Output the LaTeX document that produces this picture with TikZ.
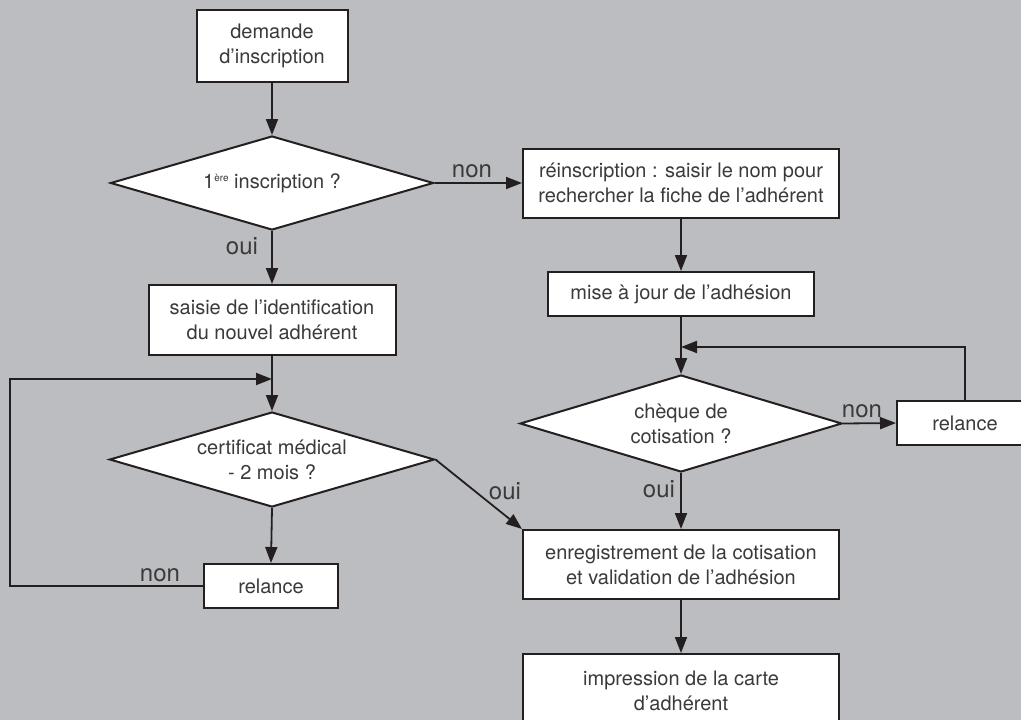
\documentclass[tikz,border=0pt]{standalone}
\usepackage{fontspec}
\setmainfont{TeX Gyre Heros}
\usetikzlibrary{shapes.geometric,arrows.meta}
\definecolor{bg}{HTML}{BCBDC1}
\definecolor{ln}{HTML}{231F20}
\definecolor{tx}{HTML}{3A3A3A}
\begin{document}
\begin{tikzpicture}[x=1pt,y=-1pt,
  box/.style={draw=ln, line width=2pt, fill=white, text=tx, align=center, inner sep=0pt,
    font=\fontsize{20}{25}\selectfont},
  dec/.style={diamond, draw=ln, line width=2pt, fill=white, text=tx, align=center, inner sep=0pt,
    shape aspect=3.4, font=\fontsize{20}{25}\selectfont},
  arr/.style={draw=ln, line width=1.8pt, -{Triangle[length=16pt,width=12pt]}},
  lbl/.style={text=tx, inner sep=0pt, font=\fontsize{24}{26}\selectfont}]
\fill[bg] (0,0) rectangle (1021,720);
\useasboundingbox (0,0) rectangle (1021,720);

% left column
\node[box, minimum width=151pt, minimum height=72pt] (d1) at (272,46) {demande\\d’inscription};
\node[dec, minimum width=323pt, minimum height=94pt] (q1) at (272,183)
  {1\raisebox{7pt}{\fontsize{10}{10}\selectfont ère} inscription ?};
\node[box, minimum width=247pt, minimum height=70pt] (s1) at (272,320)
  {saisie de l’identification\\du nouvel adhérent};
\node[dec, minimum width=325pt, minimum height=95pt] (q2) at (272,459.5)
  {certificat médical\\- 2 mois ?};
\node[box, minimum width=134pt, minimum height=44pt] (r1) at (271,586) {relance};

% right column
\node[box, minimum width=316pt, minimum height=69pt] (b2) at (681,183)
  {réinscription : saisir le nom pour\\rechercher la fiche de l’adhérent};
\node[box, minimum width=266pt, minimum height=44pt] (b3) at (681,294) {mise à jour de l’adhésion};
\node[dec, minimum width=322pt, minimum height=97pt] (q3) at (681,423.5)
  {chèque de\\cotisation ?};
\node[box, minimum width=136pt, minimum height=44pt] (r2) at (965,423) {relance};
\node[box, minimum width=316pt, minimum height=69pt] (b4) at (681,564.5)
  {enregistrement de la cotisation\\et validation de l’adhésion};
\node[box, minimum width=316pt, minimum height=74pt] (b5) at (681,691)
  {impression de la carte\\d’adhérent};

% connectors
\draw[arr] (d1) -- (q1);
\draw[arr] (q1.east) -- (b2.west);
\draw[arr] (q1.south) -- (s1.north);
\draw[arr] (s1.south) -- (q2.north);
\draw[arr] (q2.south) -- (r1.north);
\coordinate (c1) at (10,379);
\draw[arr] (r1.west) -| (c1) -- (c1 -| q2.north);
\draw[arr] (q2.east) -- (b4.north west);
\draw[arr] (b2) -- (b3);
\draw[arr] (b3) -- (q3);
\draw[arr] (q3.east) -- (r2.west);
\coordinate (c2) at (965,347);
\draw[arr] (r2.north) |- (c2 -| q3.north);
\draw[arr] (q3.south) -- (b4.north);
\draw[arr] (b4) -- (b5);

% labels
\node[lbl] (l1) at (472,171) {non};
\node[lbl] (l2) at (242,246) {oui};
\node[lbl] (l3) at (160,575) {non};
\node[lbl] (l4) at (505,491) {oui};
\node[lbl] (l5) at (862,411) {non};
\node[lbl] (l6) at (659,489) {oui};
\end{tikzpicture}
\end{document}
